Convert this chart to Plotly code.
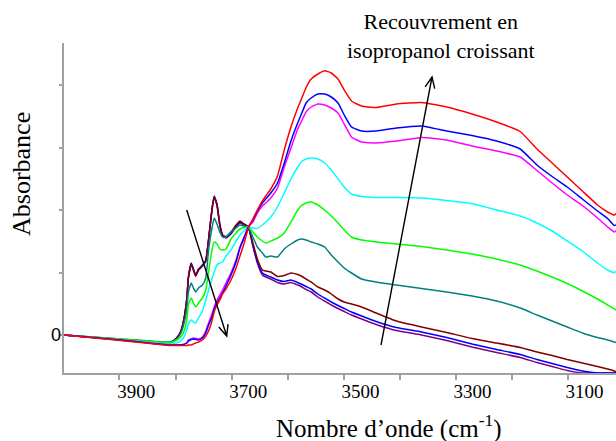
import math
import plotly.graph_objects as go

# wavenumbers (cm-1) sampled along the spectra
wavenumber = [4029, 3928, 3839, 3828, 3821, 3816, 3810, 3807, 3802, 3798,
              3794, 3789, 3782, 3776, 3771, 3765, 3761, 3756, 3751, 3746,
              3740, 3731, 3722, 3715, 3708, 3700, 3692, 3684, 3675, 3669,
              3660, 3648, 3636, 3624, 3612, 3606, 3597, 3588, 3576, 3564,
              3552, 3540, 3529, 3516, 3498, 3472, 3436, 3391, 3346, 3301,
              3257, 3215, 3185, 3158, 3131, 3104, 3077, 3059, 3047, 3040]

# absorbance, from lowest to highest isopropanol coverage
abs_purple = [0.00, -0.045, -0.075, -0.03, 0.03, 0.13, 0.35, 0.57, 0.71, 0.65, 0.59, 0.65, 0.69, 0.74, 0.95, 1.25, 1.38, 1.30, 1.10, 0.99, 0.97, 1.01, 1.08, 1.12, 1.10, 1.08,
              0.89, 0.72, 0.60, 0.58, 0.56, 0.525, 0.51, 0.525, 0.50, 0.485,
              0.455, 0.43, 0.38, 0.34, 0.30, 0.265, 0.235, 0.20, 0.16,
              0.105, 0.045, 0.00, -0.055, -0.12, -0.175, -0.225, -0.275, -0.315, -0.355, -0.38, -0.38, -0.38, -0.38, -0.38]
abs_blue = [0.00, -0.045, -0.075, -0.03, 0.03, 0.13, 0.36, 0.58, 0.72, 0.66, 0.60, 0.66, 0.70, 0.75, 0.96, 1.26, 1.39, 1.31, 1.11, 1.00, 0.98, 1.02, 1.09, 1.13, 1.11, 1.08,
            0.90, 0.74, 0.62, 0.60, 0.58, 0.55, 0.535, 0.55, 0.525, 0.51,
            0.485, 0.46, 0.41, 0.37, 0.33, 0.295, 0.265, 0.23, 0.19,
            0.135, 0.075, 0.03, -0.025, -0.09, -0.145, -0.195, -0.245, -0.285, -0.325, -0.36, -0.38, -0.38, -0.38, -0.38]
abs_maroon = [0.00, -0.045, -0.075, -0.03, 0.03, 0.13, 0.35, 0.57, 0.71, 0.65, 0.59, 0.65, 0.69, 0.74, 0.95, 1.25, 1.38, 1.30, 1.10, 1.00, 0.98, 1.03, 1.10, 1.14, 1.11, 1.08,
              0.92, 0.76, 0.65, 0.64, 0.63, 0.585, 0.595, 0.62, 0.605, 0.59,
              0.56, 0.53, 0.48, 0.45, 0.41, 0.36, 0.33, 0.31, 0.28,
              0.22, 0.14, 0.08, 0.025, -0.035, -0.08, -0.125, -0.17, -0.205, -0.245, -0.28, -0.315, -0.34, -0.36, -0.375]
abs_teal = [0.00, -0.04, -0.07, -0.04, 0.01, 0.09, 0.25, 0.43, 0.52, 0.47, 0.43, 0.47, 0.50, 0.57, 0.85, 1.07, 1.17, 1.11, 1.03, 0.98, 0.98, 1.03, 1.07, 1.10, 1.09, 1.08,
            0.98, 0.88, 0.82, 0.78, 0.79, 0.78, 0.86, 0.91, 0.95, 0.96,
            0.95, 0.93, 0.91, 0.88, 0.80, 0.73, 0.67, 0.62, 0.56,
            0.53, 0.50, 0.465, 0.43, 0.39, 0.34, 0.27, 0.20, 0.14, 0.08, 0.02, -0.025, -0.05, -0.07, -0.08]
abs_green = [0.00, -0.04, -0.075, -0.05, -0.02, 0.02, 0.15, 0.30, 0.37, 0.32, 0.28, 0.32, 0.37, 0.45, 0.63, 0.85, 0.93, 0.91, 0.86, 0.85, 0.86, 0.96, 1.02, 1.06, 1.075, 1.08,
             1.03, 0.98, 0.94, 0.92, 0.94, 0.97, 1.02, 1.13, 1.25, 1.29,
             1.32, 1.33, 1.30, 1.25, 1.19, 1.12, 1.05, 0.98, 0.95,
             0.93, 0.91, 0.885, 0.85, 0.81, 0.76, 0.70, 0.64, 0.58, 0.515, 0.44, 0.36, 0.30, 0.26, 0.24]
abs_cyan = [0.00, -0.05, -0.09, -0.08, -0.06, -0.03, 0.05, 0.11, 0.15, 0.13, 0.12, 0.17, 0.24, 0.35, 0.45, 0.56, 0.63, 0.70, 0.72, 0.73, 0.79, 0.85, 0.94, 1.00, 1.04, 1.08,
            1.07, 1.065, 1.10, 1.13, 1.18, 1.28, 1.42, 1.56, 1.68, 1.73,
            1.76, 1.77, 1.76, 1.72, 1.65, 1.56, 1.48, 1.41, 1.385,
            1.375, 1.375, 1.37, 1.345, 1.315, 1.25, 1.19, 1.12, 1.04, 0.94, 0.84, 0.72, 0.65, 0.625, 0.655]
abs_magenta = [0.00, -0.05, -0.10, -0.10, -0.10, -0.095, -0.08, -0.05, -0.04, -0.03, -0.035, -0.04, -0.02, 0.04, 0.12, 0.21, 0.28, 0.35, 0.40, 0.45, 0.52, 0.62, 0.75, 0.88, 0.97, 1.08,
               1.13, 1.22, 1.29, 1.32, 1.37, 1.47, 1.68, 1.87, 2.06, 2.13,
               2.23, 2.28, 2.31, 2.30, 2.27, 2.22, 2.11, 1.98, 1.93,
               1.92, 1.94, 1.975, 1.95, 1.89, 1.84, 1.78, 1.645, 1.52, 1.40, 1.295, 1.17, 1.08, 1.03, 1.06]
abs_blue2 = [0.00, -0.05, -0.10, -0.10, -0.10, -0.095, -0.08, -0.06, -0.045, -0.04, -0.045, -0.05, -0.03, 0.02, 0.10, 0.18, 0.26, 0.32, 0.37, 0.42, 0.49, 0.60, 0.73, 0.87, 0.97, 1.08,
             1.15, 1.24, 1.32, 1.36, 1.42, 1.52, 1.72, 1.94, 2.12, 2.20,
             2.32, 2.37, 2.41, 2.41, 2.38, 2.32, 2.20, 2.08, 2.04,
             2.04, 2.07, 2.09, 2.04, 1.995, 1.94, 1.86, 1.70, 1.585, 1.48, 1.36, 1.24, 1.165, 1.095, 1.11]
abs_red = [0.00, -0.055, -0.105, -0.105, -0.105, -0.105, -0.105, -0.10, -0.10, -0.09, -0.08, -0.07, -0.05, -0.01, 0.04, 0.14, 0.23, 0.30, 0.35, 0.41, 0.46, 0.55, 0.67, 0.79, 0.91, 1.07,
           1.16, 1.25, 1.34, 1.39, 1.46, 1.59, 1.85, 2.08, 2.27, 2.35,
           2.475, 2.56, 2.61, 2.643, 2.62, 2.56, 2.45, 2.34, 2.29,
           2.275, 2.31, 2.325, 2.28, 2.21, 2.13, 2.035, 1.86, 1.72, 1.58, 1.44, 1.30, 1.23, 1.20, 1.235]

spectra = [
    (abs_purple, '#800080'),
    (abs_blue, '#0000FF'),
    (abs_maroon, '#800000'),
    (abs_teal, '#008080'),
    (abs_green, '#00FF00'),
    (abs_cyan, '#00FFFF'),
    (abs_magenta, '#FF00FF'),
    (abs_blue2, '#0000FF'),
    (abs_red, '#FF0000'),
]

x_labels = [3900, 3700, 3500, 3300, 3100]
x_minor = [3930, 3830, 3730, 3630, 3530, 3430, 3330, 3230, 3130]

W, H = 616, 441
L, R, T, B = 64, 0, 43, 68
serif = 'Liberation Serif, Times New Roman, serif'

fig = go.Figure()
for ys, col in spectra:
    fig.add_trace(go.Scatter(x=wavenumber, y=ys, mode='lines',
                             line=dict(color=col, width=1.5, shape='spline', smoothing=0.4),
                             showlegend=False, hoverinfo='skip'))


def pp(px, py):
    # pixel position -> paper coordinates
    return (px - L) / (W - L - R), (H - B - py) / (H - T - B)


def arrow_path(x0, y0, x1, y1, size=12, ang=24):
    d = math.atan2(y1 - y0, x1 - x0)
    pts = []
    for s in (-1, 1):
        a = d + math.pi + s * math.radians(ang)
        pts.append((x1 + size * math.cos(a), y1 + size * math.sin(a)))
    t, h = pp(x0, y0), pp(x1, y1)
    h1, h2 = pp(*pts[0]), pp(*pts[1])
    return (f'M{t[0]},{t[1]} L{h[0]},{h[1]} M{h1[0]},{h1[1]} '
            f'L{h[0]},{h[1]} L{h2[0]},{h2[1]}')


shapes = []
for a in [(186.7, 210, 226.7, 336), (381, 345, 432, 77)]:
    shapes.append(dict(type='path', xref='paper', yref='paper', path=arrow_path(*a),
                       line=dict(color='black', width=1.4)))

annotations = [
    dict(text='Recouvrement en<br>isopropanol croissant', xref='paper', yref='paper',
         x=pp(441, 36)[0], y=pp(441, 36)[1], showarrow=False, xanchor='center', yanchor='middle',
         font=dict(family=serif, size=22, color='black')),
    dict(text='Absorbance', xref='paper', yref='paper', textangle=-90,
         x=pp(21, 174)[0], y=pp(21, 174)[1], showarrow=False, xanchor='center', yanchor='middle',
         font=dict(family=serif, size=26, color='black')),
    dict(text='Nombre d\u2019onde (cm<sup>-1</sup>)', xref='paper', yref='paper',
         x=pp(389, 426)[0], y=pp(389, 426)[1], showarrow=False, xanchor='center', yanchor='middle',
         font=dict(family=serif, size=25, color='black')),
    dict(text='0', xref='paper', yref='y', x=pp(56, 0)[0], y=0, showarrow=False,
         xanchor='center', yanchor='middle',
         font=dict(family='Liberation Sans, Arial, sans-serif', size=18, color='black')),
]

fig.update_layout(
    width=W, height=H,
    margin=dict(l=L, r=R, t=T, b=B),
    paper_bgcolor='white', plot_bgcolor='white',
    shapes=shapes, annotations=annotations,
    xaxis=dict(range=[4029, 3044], tickvals=x_labels, ticks='',
               tickfont=dict(family=serif, size=19, color='black'),
               showgrid=False, zeroline=False, showline=True,
               linecolor='#A0A0A0', linewidth=2,
               minor=dict(tickvals=x_minor, ticks='outside', ticklen=5,
                          tickcolor='#A0A0A0', tickwidth=1.5, showgrid=False)),
    yaxis=dict(range=[-0.38, 2.92], tickvals=[0], showticklabels=False, ticks='outside',
               ticklen=3, tickcolor='#A0A0A0',
               showgrid=False, zeroline=False, showline=True,
               linecolor='#A0A0A0', linewidth=2,
               minor=dict(tick0=0, dtick=0.625, ticks='outside', ticklen=3,
                          tickcolor='#A0A0A0', tickwidth=1.5, showgrid=False)),
)

# drop the default page margin so the figure sits at the window's corner
fig.write_html("out.html", config={'displayModeBar': False},
               post_script="document.body.style.margin='0';document.body.style.overflow='hidden';")
